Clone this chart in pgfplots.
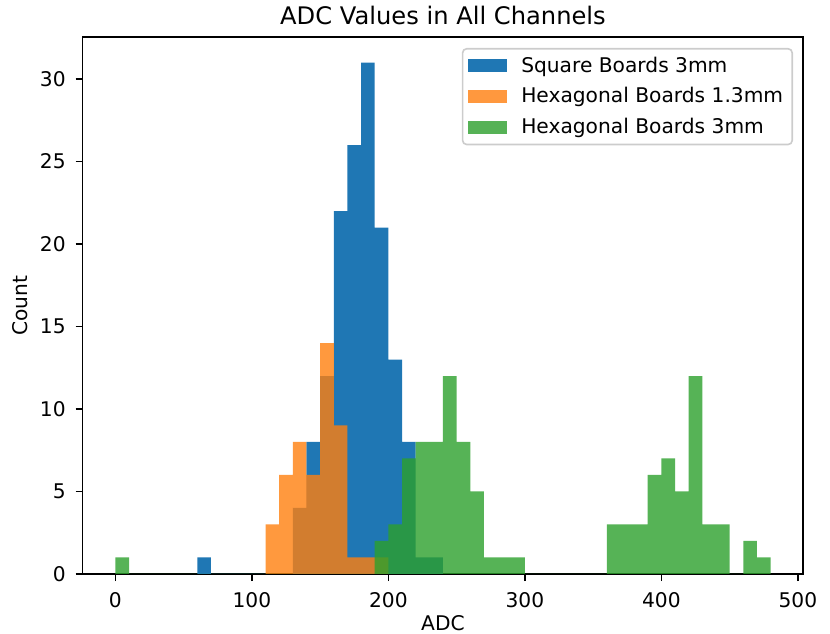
\documentclass[border=0pt]{standalone}
\usepackage{fontspec}
\setmainfont{DejaVu Sans}
\usepackage{pgfplots}
\pgfplotsset{compat=1.18}
\definecolor{mblue}{HTML}{1F77B4}
\definecolor{morange}{HTML}{FF7F0E}
\definecolor{mgreen}{HTML}{2CA02C}
\definecolor{lgray}{HTML}{CCCCCC}
\begin{document}
\begin{tikzpicture}
\path[use as bounding box] (-45.8pt,-33.25pt) rectangle (414.2pt,318.1pt);
\begin{axis}[
  at={(0,0)}, anchor=south west,
  scale only axis,
  width=399.4pt, height=297.6pt,
  xmin=-24, xmax=504,
  ymin=0, ymax=32.55,
  xtick={0,100,200,300,400,500},
  ytick={0,5,10,15,20,25,30},
  tick align=outside,
  xtick pos=bottom, ytick pos=left,
  major tick length=3.9pt,
  tick style={line width=0.9pt, black},
  axis line style={line width=0.9pt},
  /pgf/number format/assume math mode=true,
  ticklabel style={font=\fontsize{11.2}{13}\selectfont},
  xticklabel style={yshift=-3pt},
  yticklabel style={xshift=-2pt},
  title={ADC Values in All Channels},
  title style={at={(0.5,1)}, anchor=base, yshift=1pt, font=\fontsize{13.4}{16}\selectfont},
  xlabel={ADC},
  ylabel={Count},
  label style={font=\fontsize{11.2}{13}\selectfont},
  xlabel style={at={(axis description cs:0.5,0)}, anchor=base, yshift=-31.3pt},
  ylabel style={at={(axis description cs:-0.0759,0.5)}, rotate=0, anchor=base},
  legend style={at={(0.9857,0.9795)}, anchor=north east, draw=lgray, line width=0.9pt,
    rounded corners=2.2pt,
    fill=white, fill opacity=0.8, text opacity=1, font=\fontsize{11.2}{13}\selectfont,
    inner xsep=3pt, inner ysep=2.5pt, row sep=3pt},
  legend cell align=left,
  legend image code/.code={\fill[#1, sharp corners] (0pt,-3.6pt) rectangle (21.6pt,3.6pt); \path (27.5pt,0pt);},
]
\addplot[ybar interval, draw=none, fill=mblue, fill opacity=1] coordinates {
(60,1) (70,0) (80,0) (90,0) (100,0) (110,0) (120,0)
(130,4) (140,8) (150,12) (160,22) (170,26) (180,31) (190,21)
(200,13) (210,8) (220,1) (230,1) (240,0)};
\addlegendentry{Square Boards 3mm}
\addplot[ybar interval, draw=none, fill=morange, fill opacity=0.8] coordinates {
(110,3) (120,6) (130,8) (140,6) (150,14) (160,9) (170,1) (180,1) (190,1) (200,0)};
\addlegendentry{Hexagonal Boards 1.3mm}
\addplot[ybar interval, draw=none, fill=mgreen, fill opacity=0.8] coordinates {
(0,1) (10,0) (20,0) (30,0) (40,0) (50,0) (60,0) (70,0) (80,0) (90,0)
(100,0) (110,0) (120,0) (130,0) (140,0) (150,0) (160,0) (170,0) (180,0)
(190,2) (200,3) (210,7) (220,8) (230,8) (240,12) (250,8) (260,5)
(270,1) (280,1) (290,1) (300,0) (310,0) (320,0) (330,0) (340,0) (350,0)
(360,3) (370,3) (380,3) (390,6) (400,7) (410,5) (420,12) (430,3) (440,3)
(450,0) (460,2) (470,1) (480,0)};
\addlegendentry{Hexagonal Boards 3mm}
\end{axis}
\end{tikzpicture}
\end{document}
